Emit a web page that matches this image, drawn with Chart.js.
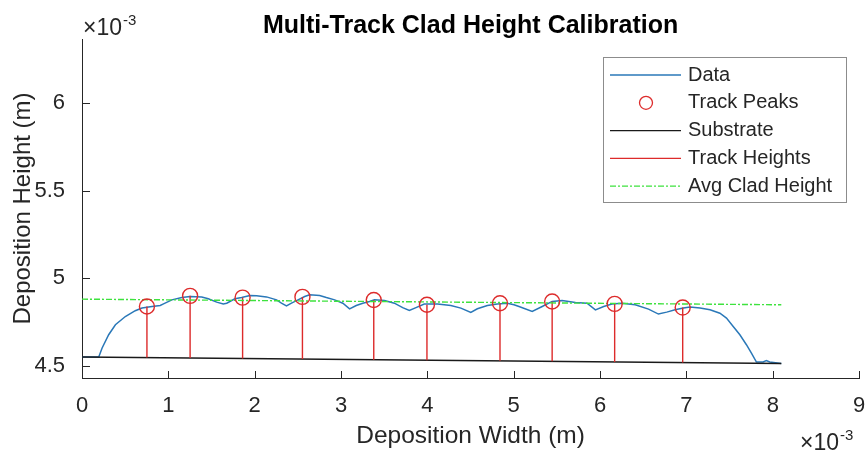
<!DOCTYPE html>
<html>
<head>
<meta charset="utf-8">
<script src="https://cdn.jsdelivr.net/npm/chart.js@4"></script>
<style>
body{margin:0;background:#fff;}
canvas{display:block;}
</style>
</head>
<body>
<canvas id="chart" width="868" height="454"></canvas>
<script>
// all values in units of 1e-3 m
const dataX=[0,0.194,0.233,0.309,0.387,0.502,0.617,0.695,0.810,0.906,0.944,1.041,1.156,1.252,1.387,1.463,1.560,1.636,1.676,1.771,1.849,1.945,2.022,2.137,2.253,2.310,2.368,2.426,2.502,2.579,2.637,2.752,2.830,2.926,3.021,3.099,3.176,3.252,3.330,3.387,3.503,3.618,3.714,3.791,3.868,3.964,4.118,4.272,4.388,4.503,4.579,4.695,4.810,4.926,5.003,5.061,5.214,5.330,5.445,5.560,5.715,5.849,5.946,6.042,6.137,6.253,6.407,6.561,6.676,6.772,6.869,6.965,7.042,7.158,7.273,7.388,7.464,7.542,7.619,7.695,7.753,7.811,7.888,7.926,7.965,8.099];
const dataY=[4.550,4.550,4.601,4.677,4.734,4.781,4.814,4.829,4.838,4.844,4.853,4.876,4.889,4.895,4.892,4.882,4.863,4.852,4.857,4.882,4.889,4.901,4.899,4.893,4.876,4.857,4.842,4.857,4.876,4.895,4.905,4.901,4.889,4.876,4.857,4.825,4.844,4.857,4.867,4.876,4.872,4.857,4.832,4.815,4.832,4.852,4.852,4.844,4.829,4.804,4.825,4.844,4.853,4.857,4.848,4.838,4.810,4.838,4.867,4.872,4.861,4.857,4.819,4.838,4.852,4.857,4.848,4.823,4.795,4.806,4.819,4.829,4.835,4.829,4.819,4.800,4.772,4.724,4.677,4.620,4.572,4.521,4.521,4.529,4.521,4.513];
const peakX=[0.752,1.252,1.860,2.553,3.379,3.995,4.841,5.445,6.169,6.957];
const peakY=[4.838,4.899,4.889,4.893,4.875,4.848,4.857,4.867,4.853,4.832];
const substrateX=[0,8.099];
const substrateY=[4.550,4.513];
const avgX=[0,8.099];
const avgY=[4.880,4.848];
const xTicks=[0,1,2,3,4,5,6,7,8,9];
const yTicks=[4.5,5,5.5,6];

const FONT="'Liberation Sans', Arial, sans-serif";
const TXT="#262626";
const BLUE="#2a78b8", RED="#dd2b2b", GREEN="#3ee23e";

function substrateAt(x){
    const t=(x-substrateX[0])/(substrateX[1]-substrateX[0]);
    return substrateY[0]+t*(substrateY[1]-substrateY[0]);
}
const toPts=(xs,ys)=>xs.map((x,i)=>({x:x,y:ys[i]}));

// vertical stems from substrate to each peak, split with nulls
let stems=[];
peakX.forEach((x,i)=>{stems.push({x:x,y:substrateAt(x)},{x:x,y:peakY[i]},{x:x,y:null});});

// inward tick marks (MATLAB style)
const tickPlugin={
    id:'inTicks',
    afterDraw(chart){
        const {ctx,chartArea:a,scales:{x,y}}=chart;
        ctx.save(); ctx.strokeStyle=TXT; ctx.lineWidth=1;
        ctx.beginPath();
        xTicks.forEach(v=>{const p=Math.round(x.getPixelForValue(v))+0.5; ctx.moveTo(p,a.bottom); ctx.lineTo(p,a.bottom-7);});
        yTicks.forEach(v=>{const p=Math.round(y.getPixelForValue(v))+0.5; ctx.moveTo(a.left,p); ctx.lineTo(a.left+8,p);});
        ctx.stroke(); ctx.restore();
    }
};

// exponent labels and legend box
const extrasPlugin={
    id:'extras',
    afterDraw(chart){
        const ctx=chart.ctx;
        ctx.save();
        ctx.fillStyle=TXT; ctx.textBaseline='alphabetic'; ctx.textAlign='left';
        function expo(x,y){
            ctx.font='23px '+FONT; ctx.fillText('\u00d710',x,y);
            const w=ctx.measureText('\u00d710').width;
            ctx.font='15px '+FONT; ctx.fillText('-3',x+w+1,y-10);
        }
        expo(83,35);
        expo(800,450);

        // legend
        const bx=603.5,by=57.5,bw=243,bh=145;
        ctx.fillStyle='#fff'; ctx.fillRect(bx,by,bw,bh);
        ctx.strokeStyle='#8c8c8c'; ctx.lineWidth=1; ctx.strokeRect(bx,by,bw,bh);
        const items=[
            {label:'Data',kind:'line',color:BLUE},
            {label:'Track Peaks',kind:'circle',color:RED},
            {label:'Substrate',kind:'line',color:'#1a1a1a'},
            {label:'Track Heights',kind:'line',color:RED},
            {label:'Avg Clad Height',kind:'dash',color:GREEN}
        ];
        items.forEach((it,i)=>{
            const yy=75+i*27.8;
            ctx.strokeStyle=it.color; ctx.lineWidth=1.3;
            ctx.setLineDash(it.kind==='dash'?[6,2,2,2]:[]);
            ctx.beginPath();
            if(it.kind==='circle'){ctx.arc(646,yy,6.5,0,Math.PI*2);}
            else{ctx.moveTo(610,yy); ctx.lineTo(681,yy);}
            ctx.stroke();
            ctx.setLineDash([]);
            ctx.fillStyle=TXT; ctx.font='20px '+FONT; ctx.textBaseline='middle';
            ctx.fillText(it.label,688,yy);
        });
        ctx.restore();
    }
};

new Chart(document.getElementById('chart').getContext('2d'),{
    type:'scatter',
    data:{datasets:[
        {label:'Data',data:toPts(dataX,dataY),showLine:true,borderColor:BLUE,borderWidth:1.5,pointRadius:0,order:5},
        {label:'Track Peaks',data:toPts(peakX,peakY),showLine:false,pointStyle:'circle',pointRadius:7.5,borderColor:RED,borderWidth:1.4,backgroundColor:'rgba(0,0,0,0)',order:1},
        {label:'Substrate',data:toPts(substrateX,substrateY),showLine:true,borderColor:'#1a1a1a',borderWidth:1.4,pointRadius:0,order:4},
        {label:'Track Heights',data:stems,showLine:true,spanGaps:false,borderColor:RED,borderWidth:1.4,pointRadius:0,order:3},
        {label:'Avg Clad Height',data:toPts(avgX,avgY),showLine:true,borderColor:GREEN,borderWidth:1.4,borderDash:[6,2,2,2],pointRadius:0,order:2}
    ]},
    options:{
        responsive:false,animation:false,devicePixelRatio:1,
        layout:{padding:{left:0,right:7,top:0,bottom:0}},
        plugins:{
            legend:{display:false},tooltip:{enabled:false},
            title:{display:true,text:'Multi-Track Clad Height Calibration',color:'#000',fullSize:false,
                font:{family:FONT,size:25,weight:'bold',lineHeight:1},padding:{top:14,bottom:0}}
        },
        scales:{
            x:{type:'linear',min:0,max:9,
                afterBuildTicks:s=>{s.ticks=xTicks.map(v=>({value:v}));},
                afterFit:s=>{s.height=76;s.paddingLeft=0;s.paddingRight=0;},
                grid:{display:false},border:{display:true,color:TXT,width:1},
                ticks:{color:TXT,padding:7,font:{family:FONT,size:22},maxRotation:0},
                title:{display:true,text:'Deposition Width (m)',color:TXT,font:{family:FONT,size:24.5},padding:{top:0,bottom:3}}},
            y:{type:'linear',min:4.43,max:6.365,
                afterBuildTicks:s=>{s.ticks=yTicks.map(v=>({value:v}));},
                afterFit:s=>{s.width=82;s.paddingTop=0;s.paddingBottom=0;},
                grid:{display:false},border:{display:true,color:TXT,width:1},
                ticks:{color:TXT,padding:9,font:{family:FONT,size:22},callback:v=>String(v)},
                title:{display:true,text:'Deposition Height (m)',color:TXT,font:{family:FONT,size:24},padding:{top:9,bottom:0}}}
        }
    },
    plugins:[tickPlugin,extrasPlugin]
});
</script>
</body>
</html>
